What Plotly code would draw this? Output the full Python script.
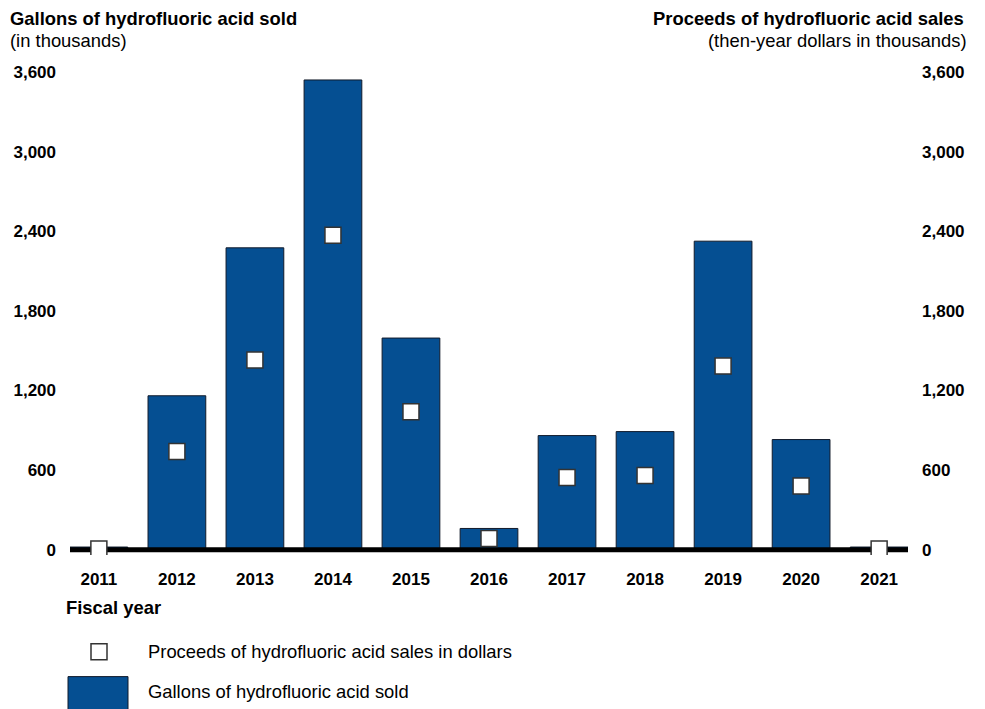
import plotly.graph_objects as go

# Exercices fiscaux et valeurs (milliers)
annees   = ["2011", "2012", "2013", "2014", "2015", "2016",
            "2017", "2018", "2019", "2020", "2021"]
gallons  = [20, 1160, 2275, 3540, 1595, 160, 860, 890, 2325, 830, 20]
produits = [5, 740, 1430, 2370, 1040, 85, 545, 560, 1385, 480, 5]
ticks_y  = [0, 600, 1200, 1800, 2400, 3000, 3600]

BLEU   = "#054F92"
POLICE = "Liberation Sans, Arial, sans-serif"

x_pos = list(range(len(annees)))
X_MIN, X_MAX = -0.37, len(annees) - 1 + 0.37
Y_MIN, Y_MAX = -40, 3600

fig = go.Figure()

fig.add_trace(go.Bar(
    x            = x_pos,
    y            = gallons,
    name         = "Gallons of hydrofluoric acid sold",
    marker       = dict(color=BLEU, line=dict(color="#111a2a", width=1)),
    yaxis        = "y",
    showlegend   = False,
))

# ligne de base épaisse
fig.add_trace(go.Scatter(
    x          = [X_MIN, X_MAX],
    y          = [0, 0],
    mode       = "lines",
    line       = dict(color="black", width=5),
    yaxis      = "y",
    hoverinfo  = "skip",
    showlegend = False,
))

fig.add_trace(go.Scatter(
    x          = x_pos,
    y          = produits,
    name       = "Proceeds of hydrofluoric acid sales in dollars",
    mode       = "markers",
    marker     = dict(symbol="square", size=16, color="white",
                      line=dict(color="#333333", width=1.5)),
    yaxis      = "y2",
    showlegend = False,
))

# Zone de tracé en pixels (marge du body supprimée par post_script)
W, H = 985, 709
PX_L, PX_R, PX_T, PX_B = 70, 908, 72, 555.3
def px_x(px):
    return (px - PX_L) / (PX_R - PX_L)
def px_y(py):
    return (PX_B - py) / (PX_B - PX_T)

tick_font = dict(family=POLICE, size=17, color="black", weight="bold")

fig.update_layout(
    width         = W,
    height        = H,
    margin        = dict(l=PX_L, r=W - PX_R, t=PX_T, b=H - PX_B),
    bargap        = 0.26,
    paper_bgcolor = "white",
    plot_bgcolor  = "white",
    font          = dict(family=POLICE, size=17, color="black"),
    xaxis = dict(
        range=[X_MIN, X_MAX], tickvals=x_pos, ticktext=annees,
        showgrid=False, zeroline=False, showline=False, ticks="",
        tickfont=tick_font, ticklabelstandoff=12,
    ),
    yaxis = dict(
        range=[Y_MIN, Y_MAX], tickvals=ticks_y,
        ticktext=[f"{v:,}" for v in ticks_y],
        showgrid=False, zeroline=False, showline=False, ticks="",
        tickfont=tick_font, ticklabelstandoff=13,
    ),
    yaxis2 = dict(
        range=[Y_MIN, Y_MAX], tickvals=ticks_y,
        ticktext=[f"{v:,}" for v in ticks_y],
        overlaying="y", side="right",
        showgrid=False, zeroline=False, showline=False, ticks="",
        tickfont=tick_font, ticklabelstandoff=13,
    ),
    showlegend = False,
)

notes = [
    ("<b>Gallons of hydrofluoric acid sold</b>", px_x(8), px_y(18), "left"),
    ("(in thousands)", px_x(8), px_y(40), "left"),
    ("<b>Proceeds of hydrofluoric acid sales</b>", px_x(966), px_y(18), "right"),
    ("(then-year dollars in thousands)", px_x(969), px_y(40), "right"),
    ("<b>Fiscal year</b>", px_x(64), px_y(608), "left"),
    ("Proceeds of hydrofluoric acid sales in dollars", px_x(146), px_y(652), "left"),
    ("Gallons of hydrofluoric acid sold", px_x(146), px_y(692), "left"),
]
for texte, x, y, ancre in notes:
    fig.add_annotation(
        text=texte, x=x, y=y, xref="paper", yref="paper",
        xanchor=ancre, yanchor="middle", showarrow=False,
        font=dict(family=POLICE, size=18.4, color="black"),
    )

# légende manuelle
fig.add_shape(type="rect", xref="paper", yref="paper",
              x0=px_x(91), x1=px_x(107), y0=px_y(660), y1=px_y(644),
              fillcolor="white", line=dict(color="#333333", width=1.5))
fig.add_shape(type="rect", xref="paper", yref="paper",
              x0=px_x(68), x1=px_x(128), y0=px_y(712), y1=px_y(677),
              fillcolor=BLEU, line=dict(color="#111a2a", width=1))

fig.write_html(
    "out.html",
    config=dict(displayModeBar=False),
    post_script="document.body.style.margin='0';document.body.style.overflow='hidden';",
)
